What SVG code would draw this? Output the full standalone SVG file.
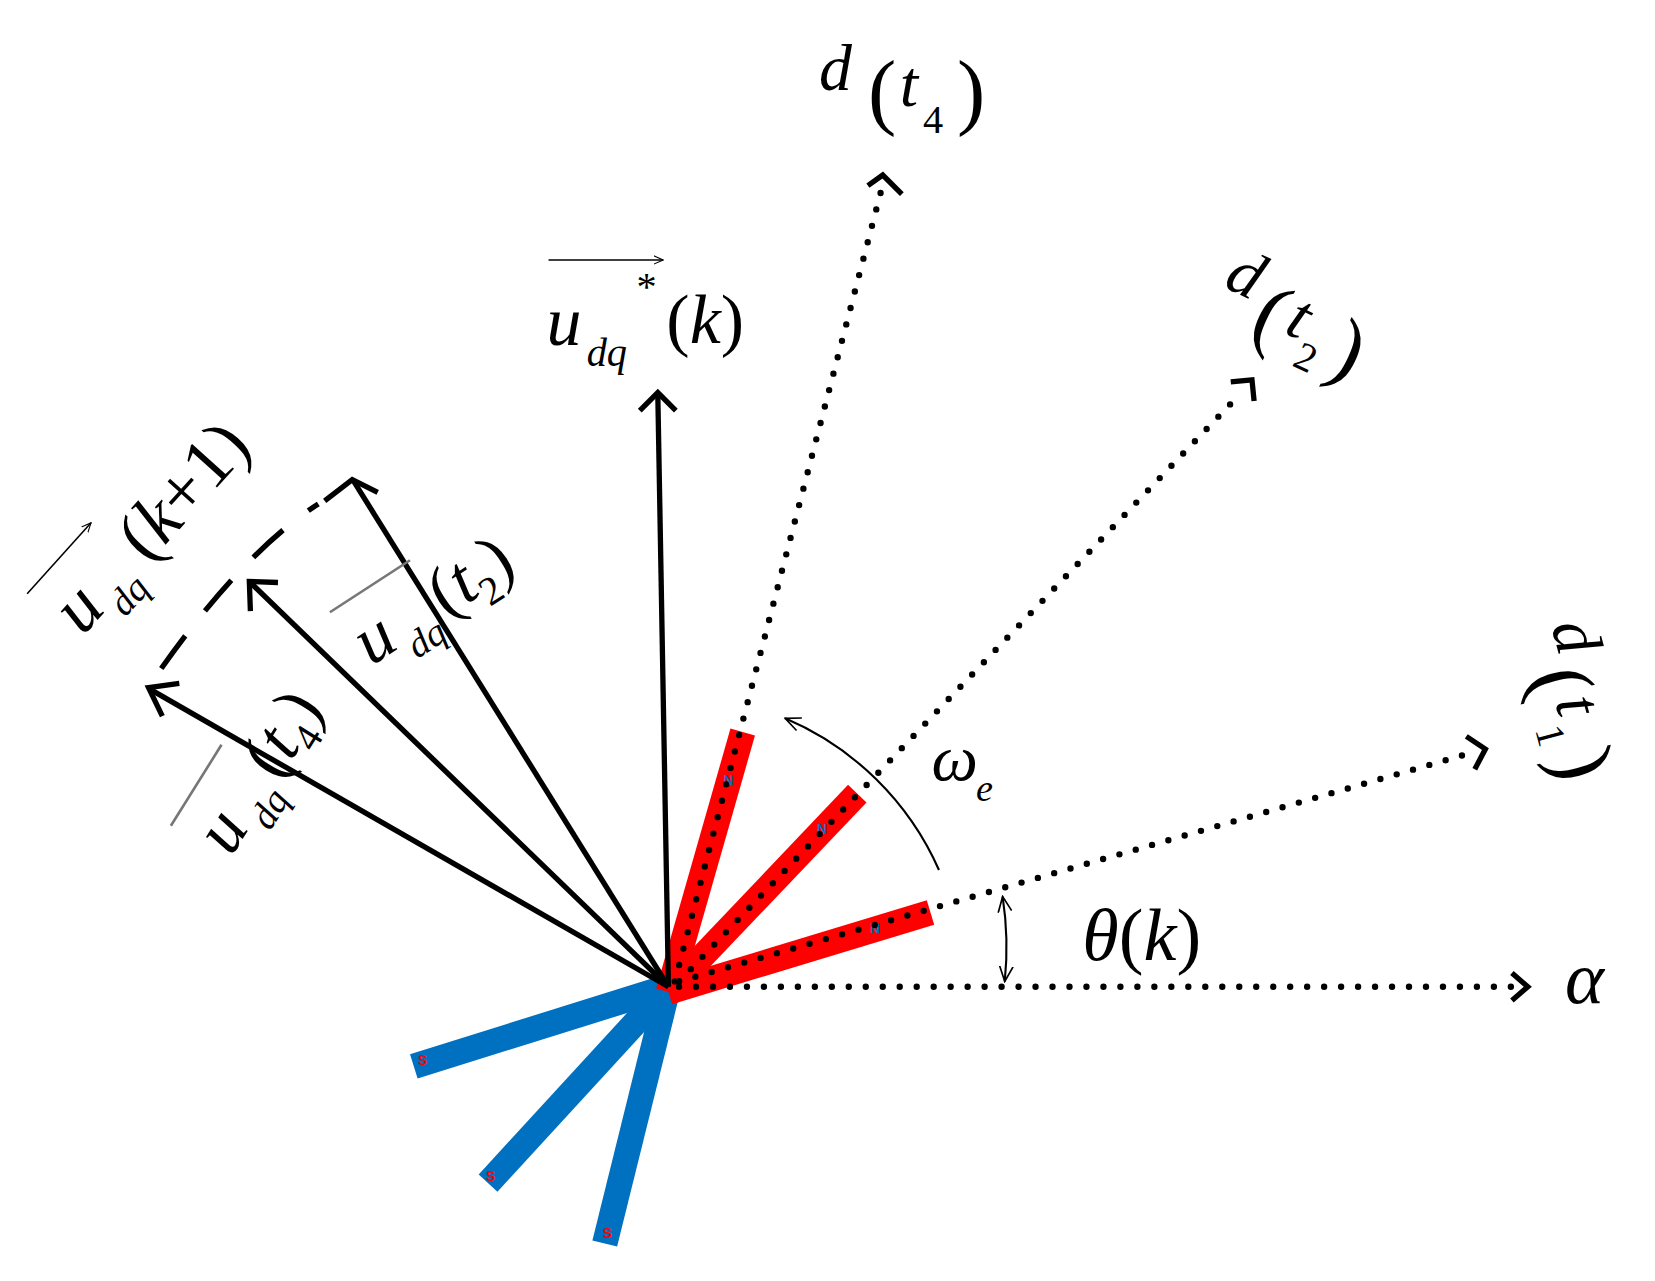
<svg xmlns="http://www.w3.org/2000/svg" width="1655" height="1281" viewBox="0 0 1655 1281">
<defs>
<style>
.t{font-family:"Liberation Serif",serif;font-style:italic;fill:#000}
.n{font-style:normal}
.vec{stroke:#000;stroke-width:5;fill:none}
.dot{stroke:#000;stroke-width:6;stroke-linecap:round;stroke-dasharray:0 16;fill:none}
.head{stroke:#000;stroke-width:5;fill:none}
.red{stroke:#f00;stroke-width:24}
.blue{stroke:#0070c0;stroke-width:24}
</style>
<marker id="ah" viewBox="0 0 10 10" refX="9" refY="5" markerWidth="10" markerHeight="10" markerUnits="userSpaceOnUse" orient="auto"><path d="M0,1 L9,5 L0,9" fill="none" stroke="#000" stroke-width="1"/></marker>
<marker id="ah2" viewBox="0 0 10 10" refX="9" refY="5" markerWidth="16" markerHeight="16" markerUnits="userSpaceOnUse" orient="auto-start-reverse"><path d="M0,1 L9,5 L0,9" fill="none" stroke="#000" stroke-width="1"/></marker>
</defs>
<rect width="1655" height="1281" fill="#fff"/>
<g transform="scale(1.061)">
<g id="magnets">
<line class="blue" x1="630" y1="930" x2="390" y2="1005"/>
<line class="blue" x1="630" y1="930" x2="460" y2="1115"/>
<line class="blue" x1="630" y1="930" x2="570" y2="1172"/>
<line class="red" x1="630" y1="935" x2="700" y2="690"/>
<line class="red" x1="630" y1="935" x2="808" y2="748"/>
<line class="red" x1="630" y1="935" x2="877" y2="860"/>
<text x="682" y="740" font-family="Liberation Sans,sans-serif" font-size="13" font-weight="bold" fill="#0070c0">N</text>
<text x="770" y="786" font-family="Liberation Sans,sans-serif" font-size="13" font-weight="bold" fill="#0070c0">N</text>
<text x="820" y="879" font-family="Liberation Sans,sans-serif" font-size="13" font-weight="bold" fill="#0070c0">N</text>
<text x="394" y="1004" font-family="Liberation Sans,sans-serif" font-size="13" font-weight="bold" fill="#f00">S</text>
<text x="458" y="1113" font-family="Liberation Sans,sans-serif" font-size="13" font-weight="bold" fill="#f00">S</text>
<text x="568" y="1167" font-family="Liberation Sans,sans-serif" font-size="13" font-weight="bold" fill="#f00">S</text>
</g>
<g id="connectors">
<line class="vec" x1="630" y1="930" x2="620" y2="372"/>
<path class="head" d="M603,387 L620,370 L637,387"/>
<line class="vec" x1="630" y1="930" x2="333" y2="453"/>
<path class="head" d="M306,472 L332,452 L356,464"/>
<line class="vec" x1="630" y1="930" x2="237" y2="550"/>
<path class="head" d="M236,576 L235,548 L262,549"/>
<line class="vec" x1="630" y1="930" x2="142" y2="650"/>
<path class="head" d="M153,675 L140,648 L169,644"/>
<path d="M152,630 Q230,520 300,475" stroke="#000" stroke-width="5" fill="none" stroke-dasharray="38 30"/>
<line class="dot" x1="640" y1="930" x2="1430" y2="930"/>
<path class="head" d="M1425,917 L1440,930 L1425,943"/>
<line class="dot" x1="640" y1="925" x2="1392" y2="708"/>
<path class="head" d="M1382,694 L1400,706 L1390,725"/>
<line class="dot" x1="640" y1="925" x2="1170" y2="370"/>
<path class="head" d="M1160,360 L1180,358 L1182,378"/>
<line class="dot" x1="636" y1="925" x2="832" y2="174"/>
<path class="head" d="M818,175 L832,165 L850,183"/>
<path d="M885,820 A277,277 0 0 0 740,677" stroke="#000" stroke-width="2" fill="none" marker-end="url(#ah2)"/>
<path d="M945,845 A318,318 0 0 1 947,925" stroke="#000" stroke-width="2" fill="none" marker-start="url(#ah2)" marker-end="url(#ah2)"/>
</g>
<g id="labels">
<text class="t" x="772" y="85" font-size="62">d</text>
<text class="t n" x="818" y="112" font-size="80">(</text>
<text class="t" x="848" y="100" font-size="62">t</text>
<text class="t n" x="870" y="125" font-size="38">4</text>
<text class="t n" x="902" y="112" font-size="80">)</text>
<line x1="517" y1="245" x2="625" y2="245" stroke="#000" stroke-width="1.5" marker-end="url(#ah)"/>
<text class="t" x="515" y="325" font-size="66">u</text>
<text class="t" x="553" y="345" font-size="38">dq</text>
<text class="t n" x="600" y="283" font-size="38">*</text>
<text class="t" x="628" y="323" font-size="66"><tspan class="n">(</tspan>k<tspan class="n">)</tspan></text>
<g transform="translate(1152,270) rotate(25)">
<text class="t" x="0" y="0" font-size="62">d</text>
<text class="t n" x="40" y="30" font-size="80">(</text>
<text class="t" x="70" y="15" font-size="62">t</text>
<text class="t n" x="90" y="40" font-size="38">2</text>
<text class="t n" x="120" y="30" font-size="80">)</text>
</g>
<g transform="translate(1462,590) rotate(75)">
<text class="t" x="0" y="0" font-size="62">d</text>
<text class="t n" x="40" y="30" font-size="80">(</text>
<text class="t" x="70" y="15" font-size="62">t</text>
<text class="t n" x="90" y="40" font-size="38">1</text>
<text class="t n" x="120" y="30" font-size="80">)</text>
</g>
<text class="t" x="878" y="735" font-size="62">ω</text>
<text class="t" x="920" y="755" font-size="36">e</text>
<text class="t" x="1020" y="905" font-size="70">θ<tspan class="n">(</tspan>k<tspan class="n">)</tspan></text>
<text class="t" x="1475" y="945" font-size="70">α</text>
<g transform="translate(78,600) rotate(-48)">
<line x1="-5" y1="-66" x2="85" y2="-66" stroke="#000" stroke-width="1.5" marker-end="url(#ah)"/>
<text class="t" x="0" y="0" font-size="68">u</text>
<text class="t" x="40" y="18" font-size="36">dq</text>
<text class="t" x="92" y="0" font-size="68"><tspan class="n">(</tspan>k<tspan class="n">+1)</tspan></text>
</g>
<g transform="translate(350,628) rotate(-33)">
<line x1="-5" y1="-64" x2="85" y2="-64" stroke="#777" stroke-width="2.5"/>
<text class="t" x="0" y="0" font-size="66">u</text>
<text class="t" x="40" y="18" font-size="36">dq</text>
<text class="t" x="84" y="0" font-size="66"><tspan class="n">(</tspan>t<tspan class="n" font-size="38" dy="14">2</tspan><tspan class="n" dy="-14">)</tspan></text>
</g>
<g transform="translate(218,808) rotate(-58)">
<line x1="-5" y1="-64" x2="85" y2="-64" stroke="#777" stroke-width="2.5"/>
<text class="t" x="0" y="0" font-size="66">u</text>
<text class="t" x="40" y="18" font-size="36">dq</text>
<text class="t" x="84" y="0" font-size="66"><tspan class="n">(</tspan>t<tspan class="n" font-size="38" dy="14">4</tspan><tspan class="n" dy="-14">)</tspan></text>
</g>
</g>
</g>
</svg>
